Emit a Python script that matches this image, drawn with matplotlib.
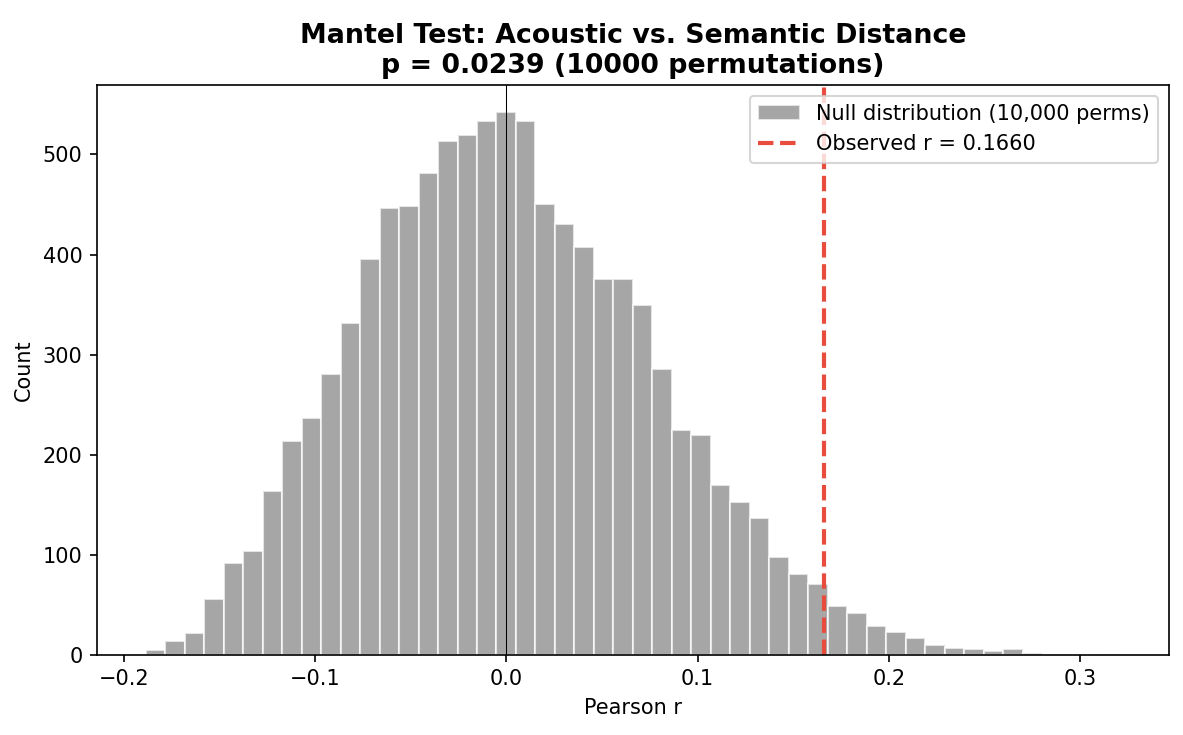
import numpy as np
import matplotlib
matplotlib.use("Agg")
import matplotlib.pyplot as plt

# null distribution of Mantel r (50 bins)
r_min, r_max = -0.1887, 0.3210
counts = [5, 14, 22, 56, 92, 104, 164, 214, 237, 281,
          332, 396, 446, 448, 481, 513, 519, 533, 542, 533,
          450, 430, 408, 376, 376, 350, 286, 225, 220, 170,
          153, 137, 98, 81, 71, 49, 42, 29, 23, 17,
          10, 7, 6, 4, 6, 2, 0, 0, 0, 1]
observed_r = 0.1660
p_value = 0.0239
n_perm = 10000

edges = np.linspace(r_min, r_max, len(counts) + 1)
centers = (edges[:-1] + edges[1:]) / 2

fig, ax = plt.subplots(figsize=(1183 / 150, 735 / 150), dpi=150)
fig.subplots_adjust(left=0.082, right=0.988, top=0.884, bottom=0.109)

ax.hist(centers, bins=edges, weights=counts, color='gray', alpha=0.7,
        edgecolor='white', label=f'Null distribution ({n_perm:,} perms)')
ax.axvline(observed_r, color='#e74c3c', linestyle='--', linewidth=2,
           label=f'Observed r = {observed_r:.4f}')
ax.axvline(0, color='black', linewidth=0.5)

ax.set_xlabel('Pearson r')
ax.set_ylabel('Count')
ax.set_title(f'Mantel Test: Acoustic vs. Semantic Distance\n'
             f'p = {p_value:.4f} ({n_perm} permutations)',
             fontsize=12.85, fontweight='bold')
ax.legend(loc='upper right')

fig.savefig('out.png', dpi=150)
